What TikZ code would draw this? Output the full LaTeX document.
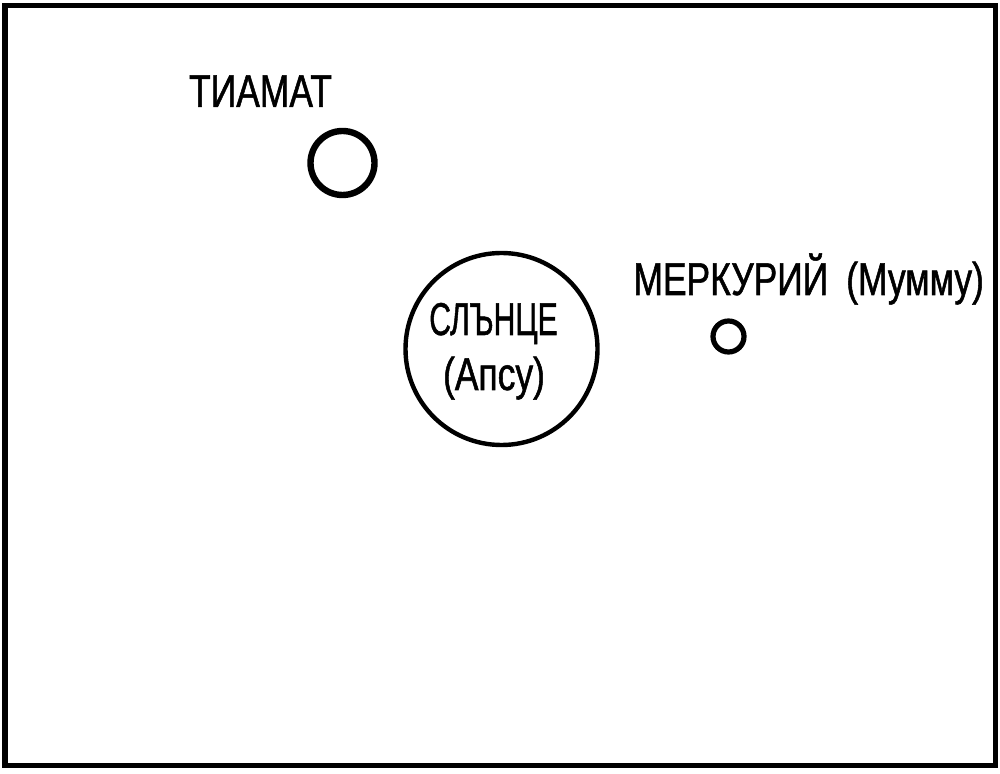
\documentclass[tikz,border=0pt]{standalone}
\usepackage{fontspec}
\setmainfont[FakeStretch=0.77,FakeBold=1.1]{Liberation Sans}
\begin{document}
\begin{tikzpicture}[x=0.5pt,y=-0.5pt,
  lbl/.style={inner sep=0pt,font=\fontsize{23pt}{27pt}\selectfont},
  planet/.style={circle,draw,inner sep=0pt}]
\useasboundingbox (0,0) rectangle (1000,774);
\draw[line width=2.6pt] (5,5.5) rectangle (995.5,765.5);
\node[planet,line width=3.2pt,minimum size=32pt] (tiamat) at (342.5,163) {};
\node[planet,line width=2.2pt,minimum size=96pt] (sun) at (501.5,349) {};
\node[planet,line width=2.6pt,minimum size=15.5pt] (merkur) at (728.5,336.5) {};
\node[lbl,anchor=base] (tl) at (260.5,107) {ТИАМАТ};
\node[lbl,anchor=base west] (ml) at (633,295) {МЕРКУРИЙ\hspace{9pt}(Мумму)};
\node[lbl,anchor=base] (s1) at (493.5,335) {\scalebox{0.85}[1]{СЛЪНЦЕ}};
\node[lbl,anchor=base] (s2) at (494,390) {(Апсу)};
\end{tikzpicture}
\end{document}
